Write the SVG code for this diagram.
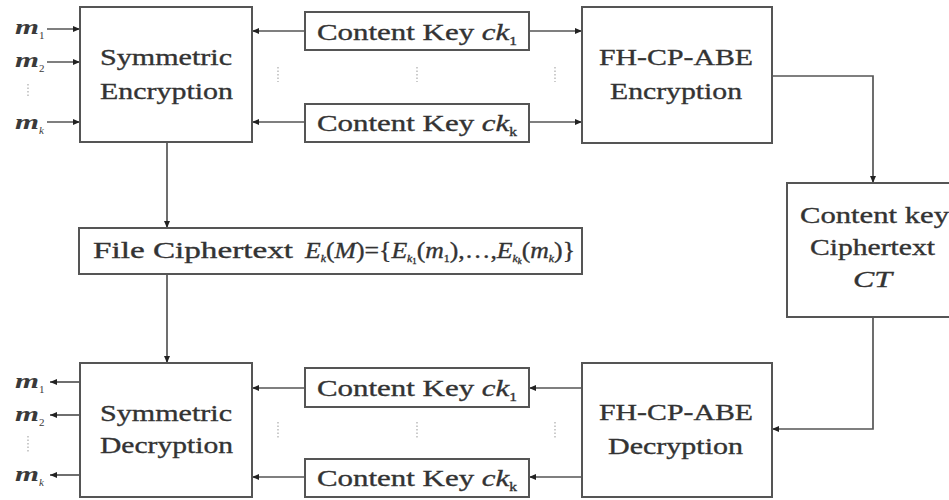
<svg xmlns="http://www.w3.org/2000/svg" width="949" height="500" viewBox="0 0 949 500">
<style>
.box{fill:#fff;stroke:#555;stroke-width:2}
.t{font-family:"Liberation Serif","Times New Roman",serif;font-size:24px;fill:#333;stroke:#333;stroke-width:0.35}
.i{font-style:italic}
.m{font-family:"Liberation Serif","Times New Roman",serif;font-size:22px;font-style:italic;font-weight:bold;fill:#3a3a3a}
.s{font-family:"Liberation Serif","Times New Roman",serif;font-size:11px;fill:#3a3a3a}
.c{fill:none;stroke:#555;stroke-width:1.7}
.d{fill:none;stroke:#aaa;stroke-width:1.2;stroke-dasharray:1.5 2}
</style>
<defs>
<marker id="a" viewBox="0 0 7 6" refX="7" refY="3" markerWidth="7" markerHeight="6" markerUnits="userSpaceOnUse" orient="auto">
<path d="M0,0 L7,3 L0,6 z" fill="#222"/>
</marker>
</defs>
<rect width="949" height="500" fill="#fff"/>

<g id="connectors">
<path class="c" d="M47,29 H80" marker-end="url(#a)"/>
<path class="c" d="M47,62 H80" marker-end="url(#a)"/>
<path class="c" d="M47,122 H80" marker-end="url(#a)"/>
<path class="c" d="M305,31 H252" marker-end="url(#a)"/>
<path class="c" d="M529,31 H582" marker-end="url(#a)"/>
<path class="c" d="M305,122 H252" marker-end="url(#a)"/>
<path class="c" d="M529,122 H582" marker-end="url(#a)"/>
<path class="c" d="M167,142 V228" marker-end="url(#a)"/>
<path class="c" d="M167,274 V363" marker-end="url(#a)"/>
<path class="c" d="M772,76 H873 V183" marker-end="url(#a)"/>
<path class="c" d="M873,317 V429 H772" marker-end="url(#a)"/>
<path class="c" d="M582,388 H529" marker-end="url(#a)"/>
<path class="c" d="M305,388 H252" marker-end="url(#a)"/>
<path class="c" d="M582,477 H529" marker-end="url(#a)"/>
<path class="c" d="M305,477 H252" marker-end="url(#a)"/>
<path class="c" d="M80,382 H50" marker-end="url(#a)"/>
<path class="c" d="M80,415 H50" marker-end="url(#a)"/>
<path class="c" d="M80,475 H50" marker-end="url(#a)"/>
<path class="d" d="M28,84 V98 M278,67 V82 M417,67 V82 M555,67 V82 M28,436 V452 M278,422 V438 M417,422 V438 M555,422 V438"/>
</g>

<g id="inputs">
<text class="m" x="15" y="34" textLength="24" lengthAdjust="spacingAndGlyphs">m</text><text class="s" x="39" y="39">1</text>
<text class="m" x="15" y="67" textLength="24" lengthAdjust="spacingAndGlyphs">m</text><text class="s" x="39" y="72">2</text>
<text class="m" x="15" y="129" textLength="24" lengthAdjust="spacingAndGlyphs">m</text><text class="s i" x="39" y="134">k</text>
</g>

<g id="outputs">
<text class="m" x="15" y="388" textLength="24" lengthAdjust="spacingAndGlyphs">m</text><text class="s" x="39" y="393">1</text>
<text class="m" x="15" y="421" textLength="24" lengthAdjust="spacingAndGlyphs">m</text><text class="s" x="39" y="426">2</text>
<text class="m" x="15" y="481" textLength="24" lengthAdjust="spacingAndGlyphs">m</text><text class="s i" x="39" y="486">k</text>
</g>

<g id="sym-enc">
<rect class="box" x="80" y="7" width="172" height="135"/>
<text class="t" x="100" y="65" textLength="132" lengthAdjust="spacingAndGlyphs">Symmetric</text>
<text class="t" x="100" y="99" textLength="133" lengthAdjust="spacingAndGlyphs">Encryption</text>
</g>

<g id="ck1-enc">
<rect class="box" x="305" y="12" width="224" height="38"/>
<text class="t" x="317" y="40" textLength="200" lengthAdjust="spacingAndGlyphs">Content Key <tspan class="i">ck</tspan><tspan font-size="12" dy="5">1</tspan></text>
</g>

<g id="ckk-enc">
<rect class="box" x="305" y="104" width="224" height="38"/>
<text class="t" x="317" y="131" textLength="200" lengthAdjust="spacingAndGlyphs">Content Key <tspan class="i">ck</tspan><tspan font-size="12" dy="5">k</tspan></text>
</g>

<g id="abe-enc">
<rect class="box" x="582" y="7" width="190" height="136"/>
<text class="t" x="599" y="65" textLength="154" lengthAdjust="spacingAndGlyphs">FH-CP-ABE</text>
<text class="t" x="610" y="99" textLength="132" lengthAdjust="spacingAndGlyphs">Encryption</text>
</g>

<g id="ct">
<rect class="box" x="787" y="183" width="170" height="134"/>
<text class="t" x="800" y="223" textLength="149" lengthAdjust="spacingAndGlyphs">Content key</text>
<text class="t" x="810" y="255" textLength="125" lengthAdjust="spacingAndGlyphs">Ciphertext</text>
<text class="t i" x="853" y="287" textLength="39" lengthAdjust="spacingAndGlyphs">CT</text>
</g>

<g id="file-ct">
<rect class="box" x="79" y="228" width="503" height="46"/>
<text class="t" x="93" y="258" textLength="200" lengthAdjust="spacingAndGlyphs">File Ciphertext</text>
<text class="t" x="305" y="258" font-size="20" stroke-width="0.2" textLength="270" lengthAdjust="spacingAndGlyphs"><tspan class="i">E</tspan><tspan class="i" font-size="11" dy="4">k</tspan><tspan dy="-4">(</tspan><tspan class="i">M</tspan>)={<tspan class="i">E</tspan><tspan class="i" font-size="11" dy="4">k</tspan><tspan font-size="8" dy="2">1</tspan><tspan dy="-6">(</tspan><tspan class="i">m</tspan><tspan font-size="11" dy="4">1</tspan><tspan dy="-4">),…,</tspan><tspan class="i">E</tspan><tspan class="i" font-size="11" dy="4">k</tspan><tspan class="i" font-size="8" dy="2">k</tspan><tspan dy="-6">(</tspan><tspan class="i">m</tspan><tspan class="i" font-size="11" dy="4">k</tspan><tspan dy="-4">)}</tspan></text>
</g>

<g id="sym-dec">
<rect class="box" x="80" y="363" width="172" height="134"/>
<text class="t" x="100" y="421" textLength="132" lengthAdjust="spacingAndGlyphs">Symmetric</text>
<text class="t" x="100" y="453" textLength="133" lengthAdjust="spacingAndGlyphs">Decryption</text>
</g>

<g id="ck1-dec">
<rect class="box" x="305" y="368" width="224" height="39"/>
<text class="t" x="317" y="396" textLength="200" lengthAdjust="spacingAndGlyphs">Content Key <tspan class="i">ck</tspan><tspan font-size="12" dy="5">1</tspan></text>
</g>

<g id="ckk-dec">
<rect class="box" x="305" y="459" width="224" height="38"/>
<text class="t" x="317" y="486" textLength="200" lengthAdjust="spacingAndGlyphs">Content Key <tspan class="i">ck</tspan><tspan font-size="12" dy="5">k</tspan></text>
</g>

<g id="abe-dec">
<rect class="box" x="582" y="363" width="190" height="134"/>
<text class="t" x="599" y="420" textLength="154" lengthAdjust="spacingAndGlyphs">FH-CP-ABE</text>
<text class="t" x="608" y="454" textLength="135" lengthAdjust="spacingAndGlyphs">Decryption</text>
</g>
</svg>
